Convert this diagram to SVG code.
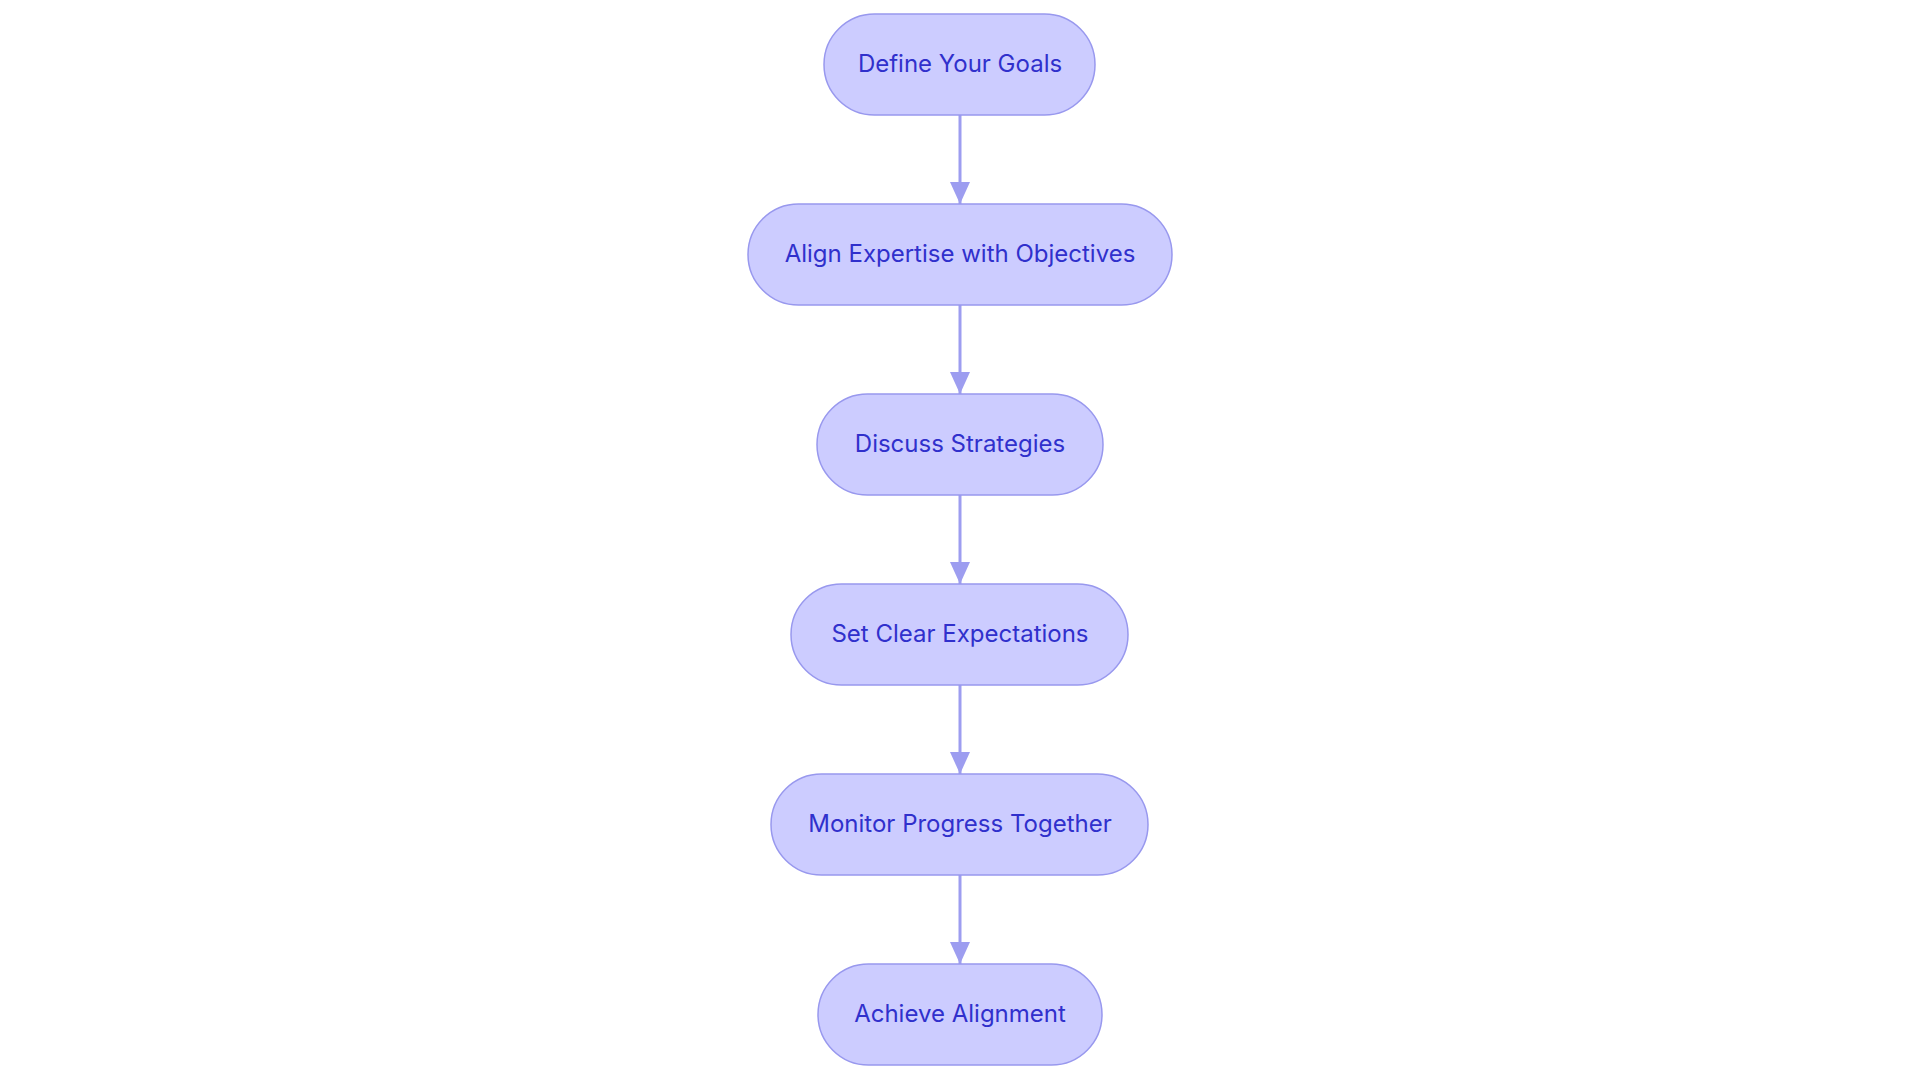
<svg xmlns="http://www.w3.org/2000/svg" width="1920" height="1083" viewBox="0 0 1920 1083">
<style>
.n rect{fill:#ccccff;stroke:#9898ee;stroke-width:1.5}
.n text{font-family:Inter,"Open Sans",sans-serif;font-size:24px;font-weight:400;fill:#3030cc;text-anchor:middle;dominant-baseline:central}
.e line{stroke:#9d9df0;stroke-width:3;marker-end:url(#ah)}
</style>
<defs><marker id="ah" viewBox="0 0 22 20" refX="22" refY="10" markerWidth="22" markerHeight="20" markerUnits="userSpaceOnUse" orient="auto"><path d="M0,0L22,10L0,20z" fill="#9d9df0"/></marker></defs>
<rect width="1920" height="1083" fill="#fff"/>
<g class="e">
<line x1="960" y1="115" x2="960" y2="204"/>
<line x1="960" y1="305" x2="960" y2="394"/>
<line x1="960" y1="495" x2="960" y2="584"/>
<line x1="960" y1="685" x2="960" y2="774"/>
<line x1="960" y1="875" x2="960" y2="964"/>
</g>
<g class="n" id="n1"><rect x="824" y="14" width="271" height="101" rx="50.5"/><text x="960" y="63">Define Your Goals</text></g>
<g class="n" id="n2"><rect x="748" y="204" width="424" height="101" rx="50.5"/><text x="960" y="253">Align Expertise with Objectives</text></g>
<g class="n" id="n3"><rect x="817" y="394" width="286" height="101" rx="50.5"/><text x="960" y="443">Discuss Strategies</text></g>
<g class="n" id="n4"><rect x="791" y="584" width="337" height="101" rx="50.5"/><text x="960" y="633">Set Clear Expectations</text></g>
<g class="n" id="n5"><rect x="771" y="774" width="377" height="101" rx="50.5"/><text x="960" y="823">Monitor Progress Together</text></g>
<g class="n" id="n6"><rect x="818" y="964" width="284" height="101" rx="50.5"/><text x="960" y="1013">Achieve Alignment</text></g>
</svg>
